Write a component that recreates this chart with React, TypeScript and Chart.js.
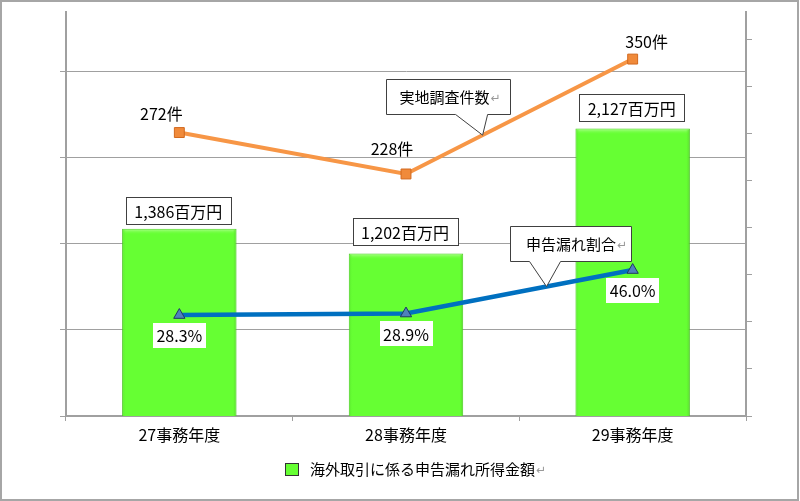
import React, { useEffect, useRef } from "react";
import { Chart, registerables } from "chart.js";

Chart.register(...registerables);

// ---------------- data ----------------
const categories = ["27事務年度", "28事務年度", "29事務年度"];
const amountValues = [1386, 1202, 2127]; // 百万円
const surveyCounts = [272, 228, 350]; // 件
const omissionRates = [28.3, 28.9, 46.0]; // %
const legendLabel = "海外取引に係る申告漏れ所得金額";
const countCalloutText = "実地調査件数";
const rateCalloutText = "申告漏れ割合";
const returnMark = "↵";

// ---------------- styles ----------------
const FONT = '"Noto Sans CJK JP", "Noto Sans", sans-serif';
const GREEN = "#66FF33";
const ORANGE = "#F79646";
const BLUE = "#0070C0";
const GRID = "#A0A0A0";
const BOX_STROKE = "#404040";

const amountLabel = (v: number) => `${v.toLocaleString("en-US")}百万円`;
const countLabel = (v: number) => `${v}件`;
const rateLabel = (v: number) => `${v.toFixed(1)}%`;

// label offsets relative to the data point (style, not data)
const barLabelGap = [4, 8, 7];
const countLabelOffset = [
  [-18, -19],
  [-14, -25],
  [14, -17],
];

function boxedText(ctx: CanvasRenderingContext2D, text: string, cx: number, cy: number, w: number, h: number, stroke: boolean) {
  const l = Math.round(cx - w / 2);
  const t = Math.round(cy - h / 2);
  ctx.fillStyle = "#fff";
  ctx.fillRect(l, t, w, h);
  if (stroke) {
    ctx.strokeStyle = BOX_STROKE;
    ctx.lineWidth = 1;
    ctx.strokeRect(l + 0.5, t + 0.5, w, h);
  }
  ctx.fillStyle = "#000";
  ctx.textAlign = "center";
  ctx.textBaseline = "middle";
  ctx.fillText(text, cx, cy + 1);
}

function textWithMark(ctx: CanvasRenderingContext2D, text: string, cx: number, cy: number, size: number) {
  ctx.font = `${size}px ${FONT}`;
  const w1 = ctx.measureText(text).width;
  ctx.font = `${size - 3}px "DejaVu Sans", sans-serif`;
  const w2 = ctx.measureText(returnMark).width;
  const start = cx - (w1 + w2) / 2;
  ctx.textAlign = "left";
  ctx.textBaseline = "middle";
  ctx.font = `${size}px ${FONT}`;
  ctx.fillStyle = "#000";
  ctx.fillText(text, start, cy);
  ctx.font = `${size - 3}px "DejaVu Sans", sans-serif`;
  ctx.fillStyle = "#999";
  ctx.fillText(returnMark, start + w1 + 1, cy + 2);
}

function callout(
  ctx: CanvasRenderingContext2D,
  tipX: number,
  tipY: number,
  box: { l: number; r: number; t: number; b: number },
  base: [number, number],
  text: string,
  textDx: number
) {
  const L = Math.round(tipX + box.l) + 0.5;
  const R = Math.round(tipX + box.r) + 0.5;
  const T = Math.round(tipY + box.t) + 0.5;
  const B = Math.round(tipY + box.b) + 0.5;
  ctx.beginPath();
  ctx.moveTo(L, T);
  ctx.lineTo(R, T);
  ctx.lineTo(R, B);
  ctx.lineTo(tipX + base[1], B);
  ctx.lineTo(tipX, tipY);
  ctx.lineTo(tipX + base[0], B);
  ctx.lineTo(L, B);
  ctx.closePath();
  ctx.fillStyle = "#fff";
  ctx.fill();
  ctx.strokeStyle = BOX_STROKE;
  ctx.lineWidth = 1;
  ctx.stroke();
  textWithMark(ctx, text, (L + R) / 2 + textDx, (T + B) / 2, 15);
}

const overlayPlugin = {
  id: "overlay",
  beforeDraw(chart: any) {
    const { ctx, width, height } = chart;
    ctx.save();
    ctx.fillStyle = "#fff";
    ctx.fillRect(0, 0, width, height);
    ctx.restore();
  },
  afterDatasetDraw(chart: any, args: any) {
    if (args.index !== 0) return;
    const { ctx } = chart;
    const meta = chart.getDatasetMeta(0);
    ctx.save();
    meta.data.forEach((bar: any) => {
      const l = bar.x - bar.width / 2;
      const r = bar.x + bar.width / 2;
      const t = bar.y;
      const b = bar.base;
      // bevel: light top, darker sides
      const g = ctx.createLinearGradient(0, t, 0, t + 6);
      g.addColorStop(0, "#B5FF98");
      g.addColorStop(1, "rgba(102,255,51,0)");
      ctx.fillStyle = g;
      ctx.fillRect(l + 1, t + 1, r - l - 2, 6);
      const gl = ctx.createLinearGradient(l, 0, l + 4, 0);
      gl.addColorStop(0, "#57E02B");
      gl.addColorStop(1, "rgba(102,255,51,0)");
      ctx.fillStyle = gl;
      ctx.fillRect(l + 1, t + 1, 4, b - t - 1);
      const gr = ctx.createLinearGradient(r, 0, r - 4, 0);
      gr.addColorStop(0, "#4FC826");
      gr.addColorStop(1, "rgba(102,255,51,0)");
      ctx.fillStyle = gr;
      ctx.fillRect(r - 5, t + 1, 4, b - t - 1);
    });
    ctx.restore();
  },
  afterDraw(chart: any) {
    const { ctx, width, height } = chart;
    ctx.save();
    // frame
    ctx.strokeStyle = "#A6A6A6";
    ctx.lineWidth = 2;
    ctx.strokeRect(1, 1, width - 3, height - 2);

    const bars = chart.getDatasetMeta(0).data;
    const orange = chart.getDatasetMeta(1).data;
    const blue = chart.getDatasetMeta(2).data;

    // callouts
    const t1 = 0.338;
    const o1 = orange[1], o2 = orange[2];
    callout(
      ctx,
      o1.x + (o2.x - o1.x) * t1,
      o1.y + (o2.y - o1.y) * t1,
      { l: -97, r: 27, t: -56, b: -21 },
      [-27, 5],
      countCalloutText,
      1
    );
    const t2 = 0.62;
    const b1 = blue[1], b2 = blue[2];
    callout(
      ctx,
      b1.x + (b2.x - b1.x) * t2,
      b1.y + (b2.y - b1.y) * t2,
      { l: -37, r: 84, t: -61, b: -26 },
      [-17, 14],
      rateCalloutText,
      5
    );

    // bar labels
    ctx.font = `16px ${FONT}`;
    bars.forEach((bar: any, i: number) => {
      boxedText(ctx, amountLabel(amountValues[i]), bar.x - 1, bar.y - barLabelGap[i] - 14, 105, 27, true);
    });

    // count labels
    ctx.font = `16px ${FONT}`;
    ctx.fillStyle = "#000";
    ctx.textAlign = "center";
    ctx.textBaseline = "middle";
    orange.forEach((p: any, i: number) => {
      ctx.fillText(countLabel(surveyCounts[i]), p.x + countLabelOffset[i][0], p.y + countLabelOffset[i][1]);
    });

    // rate labels
    ctx.font = `16px ${FONT}`;
    blue.forEach((p: any, i: number) => {
      boxedText(ctx, rateLabel(omissionRates[i]), p.x, p.y + 20, 53, 25, false);
    });

    // legend
    ctx.fillStyle = GREEN;
    ctx.fillRect(285, 463, 13, 12);
    ctx.strokeStyle = "#333";
    ctx.lineWidth = 1;
    ctx.strokeRect(285.5, 463.5, 13, 12);
    ctx.font = `15px ${FONT}`;
    ctx.fillStyle = "#000";
    ctx.textAlign = "left";
    ctx.textBaseline = "middle";
    const lw = ctx.measureText(legendLabel).width;
    ctx.fillText(legendLabel, 310, 469);
    ctx.font = `12px "DejaVu Sans", sans-serif`;
    ctx.fillStyle = "#999";
    ctx.fillText(returnMark, 311 + lw, 471);

    ctx.restore();
  },
};

export default function App() {
  const ref = useRef<HTMLCanvasElement | null>(null);

  useEffect(() => {
    if (!ref.current) return;
    const chart = new Chart(ref.current, {
      type: "bar",
      data: {
        labels: categories,
        datasets: [
          {
            type: "bar",
            label: legendLabel,
            data: amountValues,
            yAxisID: "yBar",
            backgroundColor: GREEN,
            borderColor: "#4CC626",
            borderWidth: 1,
            categoryPercentage: 1,
            barPercentage: 0.505,
            order: 3,
          },
          {
            type: "line",
            label: countCalloutText,
            data: surveyCounts,
            yAxisID: "yCount",
            borderColor: ORANGE,
            borderWidth: 4,
            tension: 0,
            pointStyle: "rect",
            pointRadius: 7,
            pointBackgroundColor: "#F08A3A",
            pointBorderColor: "#D2691E",
            pointBorderWidth: 1,
            order: 2,
          } as any,
          {
            type: "line",
            label: rateCalloutText,
            data: omissionRates,
            yAxisID: "yRate",
            borderColor: BLUE,
            borderWidth: 4.5,
            tension: 0,
            pointStyle: "triangle",
            pointRadius: 6.5,
            pointBackgroundColor: "#4F81BD",
            pointBorderColor: "#1F3864",
            pointBorderWidth: 1,
            order: 1,
          } as any,
        ],
      },
      options: {
        responsive: false,
        animation: false,
        devicePixelRatio: 1,
        layout: { padding: { left: 60, right: 48, top: 12, bottom: 0 } },
        plugins: {
          legend: { display: false },
          tooltip: { enabled: false },
        },
        scales: {
          x: {
            type: "category",
            offset: true,
            grid: { offset: true, drawOnChartArea: false, color: GRID, tickLength: 5 },
            border: { display: true, color: GRID, width: 2 },
            ticks: { color: "#000", font: { family: FONT, size: 16 }, padding: 4 },
            afterFit: (s: any) => {
              s.height = 85;
            },
          },
          y: {
            position: "left",
            min: 0,
            max: 404 / 86.25,
            ticks: { display: false, stepSize: 1, includeBounds: false },
            grid: { color: GRID, tickLength: 6, lineWidth: 1 },
            border: { display: true, color: GRID, width: 2 },
            afterFit: (s: any) => {
              s.width = 6;
            },
          },
          yR: {
            position: "right",
            min: 0,
            max: 404 / 47.125,
            ticks: { display: false, stepSize: 1, includeBounds: false },
            grid: { drawOnChartArea: false, color: GRID, tickLength: 6 },
            border: { display: true, color: GRID, width: 2 },
            afterFit: (s: any) => {
              s.width = 6;
            },
          },
          yBar: { display: false, min: 0, max: 2990 },
          yCount: { display: false, min: -29, max: 400 },
          yRate: { display: false, min: -11.4, max: 147.5 },
        },
      } as any,
      plugins: [overlayPlugin],
    });
    return () => chart.destroy();
  }, []);

  return (
    <div style={{ position: "fixed", left: 0, top: 0, width: 800, height: 501, background: "#fff" }}>
      <canvas ref={ref} width={800} height={501} style={{ display: "block", width: 800, height: 501 }} />
    </div>
  );
}
